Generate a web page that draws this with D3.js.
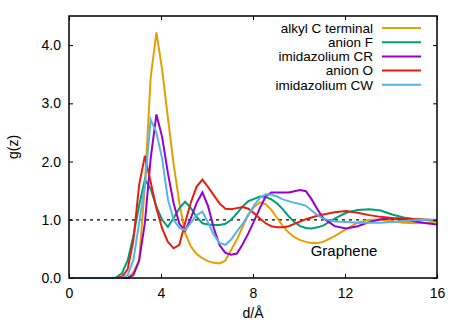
<!DOCTYPE html>
<html>
<head>
<meta charset="utf-8">
<script src="https://cdn.jsdelivr.net/npm/d3@7"></script>
<style>
  body { margin: 0; background: #fff; }
  text { font-family: "Liberation Sans", Arial, sans-serif; }
</style>
</head>
<body>
<div id="chart"></div>
<script>
// distance from the graphene surface (Å)
const dist = [0, 1.8, 2.05, 2.3, 2.55, 2.8, 3.05, 3.3, 3.55, 3.8, 4.05, 4.3, 4.55, 4.8, 5.05, 5.3, 5.55, 5.8,
  6.05, 6.3, 6.55, 6.8, 7.05, 7.3, 7.55, 7.8, 8.05, 8.3, 8.55, 8.8, 9.05, 9.3, 9.55, 9.8, 10.05, 10.3, 10.55,
  10.8, 11.05, 11.55, 12.05, 12.55, 13.05, 13.55, 14.05, 14.55, 15.05, 15.55, 16.0];

const alkylC = [0, 0, 0, 0, 0, 0.1, 0.3, 1.6, 3.44, 4.22, 3.58, 2.75, 1.95, 1.29, 0.77, 0.54, 0.41, 0.34,
  0.29, 0.26, 0.25, 0.3, 0.48, 0.66, 0.88, 1.1, 1.22, 1.3, 1.27, 1.17, 1.03, 0.89, 0.78, 0.7, 0.65, 0.62, 0.6,
  0.6, 0.62, 0.72, 0.84, 0.95, 1.0, 1.0, 0.97, 0.95, 0.94, 0.95, 0.97];

const anionF = [0, 0, 0.01, 0.08, 0.3, 0.72, 1.25, 1.69, 1.53, 1.22, 1.0, 0.88, 1.03, 1.2, 1.31, 1.2, 1.05, 0.94,
  0.92, 0.91, 0.91, 0.93, 1.0, 1.11, 1.23, 1.32, 1.36, 1.4, 1.39, 1.35, 1.28, 1.18, 1.06, 0.96, 0.89, 0.86, 0.85,
  0.87, 0.9, 1.02, 1.12, 1.17, 1.18, 1.16, 1.09, 1.04, 1.01, 1.0, 0.99];

const imidCR = [0, 0, 0, 0, 0, 0.05, 0.3, 0.95, 2.05, 2.81, 2.42, 1.8, 1.28, 0.93, 0.81, 1.03, 1.29, 1.47,
  1.23, 0.85, 0.56, 0.43, 0.4, 0.42, 0.58, 0.77, 0.98, 1.2, 1.4, 1.47, 1.47, 1.47, 1.47, 1.49, 1.51, 1.49, 1.35,
  1.18, 1.03, 0.89, 0.85, 0.89, 0.96, 1.01, 1.02, 1.0, 0.97, 0.94, 0.92];

const anionO = [0, 0, 0, 0.02, 0.15, 0.65, 1.6, 2.1, 1.65, 1.2, 0.85, 0.62, 0.51, 0.57, 0.95, 1.3, 1.57, 1.69,
  1.56, 1.42, 1.28, 1.19, 1.18, 1.2, 1.22, 1.19, 1.11, 1.02, 0.94, 0.89, 0.87, 0.87, 0.89, 0.93, 0.97, 1.01, 1.04,
  1.07, 1.09, 1.13, 1.15, 1.12, 1.08, 1.05, 1.03, 1.02, 1.01, 1.0, 0.99];

const imidCW = [0, 0, 0, 0, 0.05, 0.31, 0.95, 1.6, 2.72, 2.5, 2.05, 1.35, 1.0, 0.86, 0.82, 0.95, 1.08, 1.14,
  0.95, 0.74, 0.6, 0.57, 0.66, 0.8, 0.93, 1.08, 1.25, 1.38, 1.44, 1.43, 1.4, 1.35, 1.32, 1.29, 1.27, 1.24, 1.16,
  1.08, 1.02, 0.97, 0.96, 0.95, 0.95, 0.95, 0.96, 0.98, 0.99, 1.0, 1.0];

const seriesNames = ["alkyl C terminal", "anion F", "imidazolium CR", "anion O", "imidazolium CW"];
const seriesValues = [alkylC, anionF, imidCR, anionO, imidCW];
const seriesColors = ["#e69f00", "#009e73", "#9400d3", "#e51e10", "#56b4e9"];

const xTicks = [0, 4, 8, 12, 16];
const yTicks = [0, 1, 2, 3, 4];

const width = 463;
const height = 324;
const margin = { top: 16, right: 26, bottom: 46, left: 69 };

const svg = d3.select("#chart")
  .append("svg")
  .attr("width", width)
  .attr("height", height);

const xScale = d3.scaleLinear()
  .domain([0, 16])
  .range([margin.left, width - margin.right]);

const yScale = d3.scaleLinear()
  .domain([0, 4.5])
  .range([height - margin.bottom, margin.top]);

// reference line at g(z) = 1
svg.append("line")
  .attr("x1", xScale(0))
  .attr("x2", xScale(16))
  .attr("y1", yScale(1))
  .attr("y2", yScale(1))
  .attr("stroke", "#000")
  .attr("stroke-width", 1.3)
  .attr("stroke-dasharray", "3,4");

// curves
const line = d3.line()
  .x(d => xScale(d[0]))
  .y(d => yScale(d[1]));

seriesValues.forEach((vals, i) => {
  svg.append("path")
    .datum(dist.map((d, j) => [d, vals[j]]))
    .attr("fill", "none")
    .attr("stroke", seriesColors[i])
    .attr("stroke-width", 2)
    .attr("stroke-linejoin", "miter")
    .attr("d", line);
});

// axes, ticks pointing inwards, mirrored on top and right
const tickLen = 4;
svg.append("g")
  .attr("transform", `translate(0,${yScale(0)})`)
  .call(d3.axisBottom(xScale).tickValues(xTicks).tickSizeInner(-tickLen).tickSizeOuter(0).tickPadding(10))
  .call(g => g.select(".domain").remove())
  .selectAll("text").style("font-size", "14px").attr("fill", "#000");

svg.append("g")
  .attr("transform", `translate(0,${yScale(4.5)})`)
  .call(d3.axisTop(xScale).tickValues(xTicks).tickSizeInner(-tickLen).tickSizeOuter(0).tickFormat(""))
  .call(g => g.select(".domain").remove());

svg.append("g")
  .attr("transform", `translate(${xScale(0)},0)`)
  .call(d3.axisLeft(yScale).tickValues(yTicks).tickSizeInner(-tickLen).tickSizeOuter(0).tickPadding(8)
    .tickFormat(d3.format(".1f")))
  .call(g => g.select(".domain").remove())
  .selectAll("text").style("font-size", "14px").attr("fill", "#000");

svg.append("g")
  .attr("transform", `translate(${xScale(16)},0)`)
  .call(d3.axisRight(yScale).tickValues(yTicks).tickSizeInner(-tickLen).tickSizeOuter(0).tickFormat(""))
  .call(g => g.select(".domain").remove());

svg.selectAll(".tick line").attr("stroke", "#000").attr("stroke-width", 1);

// frame
svg.append("rect")
  .attr("x", xScale(0))
  .attr("y", yScale(4.5))
  .attr("width", xScale(16) - xScale(0))
  .attr("height", yScale(0) - yScale(4.5))
  .attr("fill", "none")
  .attr("stroke", "#000")
  .attr("stroke-width", 1.5);

// axis titles
svg.append("text")
  .attr("x", (xScale(0) + xScale(16)) / 2)
  .attr("y", 318)
  .attr("text-anchor", "middle")
  .style("font-size", "14px")
  .text("d/Å");

svg.append("text")
  .attr("transform", `translate(18,${(yScale(0) + yScale(4.5)) / 2}) rotate(-90)`)
  .attr("text-anchor", "middle")
  .style("font-size", "14px")
  .text("g(z)");

svg.append("text")
  .attr("x", xScale(12) - 1)
  .attr("y", yScale(0.38))
  .attr("text-anchor", "middle")
  .style("font-size", "15px")
  .text("Graphene");

// legend
const legend = svg.append("g");
seriesNames.forEach((name, i) => {
  const y = 28 + i * 14.2;
  legend.append("text")
    .attr("x", 373)
    .attr("y", y)
    .attr("dy", "0.35em")
    .attr("text-anchor", "end")
    .style("font-size", "13.5px")
    .text(name);
  legend.append("line")
    .attr("x1", 382)
    .attr("x2", 421)
    .attr("y1", y)
    .attr("y2", y)
    .attr("stroke", seriesColors[i])
    .attr("stroke-width", 2);
});
</script>
</body>
</html>
